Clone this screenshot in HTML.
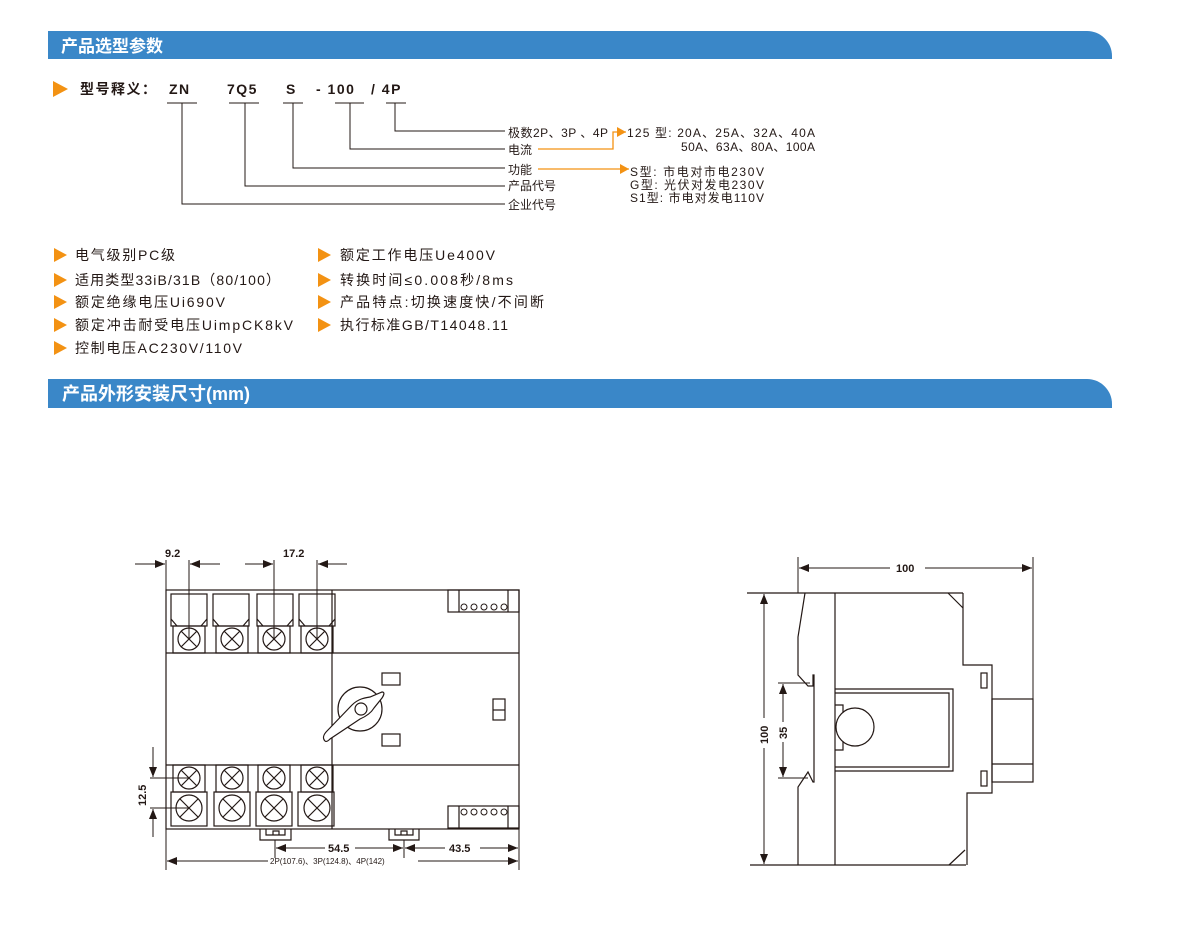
<!DOCTYPE html>
<html><head><meta charset="utf-8"><style>
html,body{margin:0;padding:0;background:#fff;}
svg{display:block;}
text{font-family:"Liberation Sans","Noto Sans CJK SC",sans-serif;fill:#231815;}
</style></head><body>
<svg width="1200" height="948" viewBox="0 0 1200 948" xmlns="http://www.w3.org/2000/svg">
<defs>
<marker id="ah" markerWidth="10" markerHeight="8" refX="10" refY="4" orient="auto" markerUnits="userSpaceOnUse"><path d="M0,0 L10,4 L0,8 z" fill="#231815"/></marker>
<marker id="ao" markerWidth="9" markerHeight="10" refX="9" refY="5" orient="auto" markerUnits="userSpaceOnUse"><path d="M0,0 L9,5 L0,10 z" fill="#f39213"/></marker>
</defs>
<path d="M48,31 H1087 A25,25 0 0 1 1112,56 V59 H48 Z" fill="#3a87c8"/>
<text x="61" y="52" font-size="17" font-weight="bold" style="fill:#fff">产品选型参数</text>
<path d="M48,379 H1087 A25,25 0 0 1 1112,404 V408 H48 Z" fill="#3a87c8"/>
<text x="62" y="400" font-size="18" font-weight="bold" style="fill:#fff">产品外形安装尺寸(mm)</text>

<path d="M53,81 L68,89 L53,97 Z" fill="#f39213"/>
<g font-size="14" font-weight="bold" letter-spacing="1.5">
<text x="80" y="94">型号释义：</text>
<text x="169" y="94">ZN</text>
<text x="227" y="94">7Q5</text>
<text x="286" y="94">S</text>
<text x="316" y="94">- 100</text>
<text x="371" y="94">/ 4P</text>
</g>
<g stroke="#231815" stroke-width="1" fill="none">
<path d="M167,103 H197 M229,103 H259 M283,103 H303 M335,103 H364 M386,103 H406"/>
<path d="M182,103 V204 H505 M245,103 V186 H505 M293,103 V168 H505 M350,103 V149 H505 M395,103 V131 H505"/>
</g>
<g font-size="12">
<text x="508" y="137" textLength="100">极数2P、3P 、4P</text>
<text x="508" y="154">电流</text>
<text x="508" y="174">功能</text>
<text x="508" y="190">产品代号</text>
<text x="508" y="209">企业代号</text>
<text x="627" y="137" textLength="188">125  型:  20A、25A、32A、40A</text>
<text x="681" y="151" textLength="134">50A、63A、80A、100A</text>
<text x="630" y="176" textLength="134">S型:     市电对市电230V</text>
<text x="630" y="189" textLength="134">G型:     光伏对发电230V</text>
<text x="630" y="202" textLength="134">S1型:  市电对发电110V</text>
</g>
<path d="M538,149 H613 V132 H626" stroke="#f39213" stroke-width="1.3" fill="none" marker-end="url(#ao)"/>
<path d="M538,169 H629" stroke="#f39213" stroke-width="1.3" fill="none" marker-end="url(#ao)"/>

<g fill="#f39213">
<path d="M54,248 L67,255 L54,262Z"/><path d="M54,273 L67,280 L54,287Z"/><path d="M54,295 L67,302 L54,309Z"/><path d="M54,318 L67,325 L54,332Z"/><path d="M54,341 L67,348 L54,355Z"/>
<path d="M318,248 L331,255 L318,262Z"/><path d="M318,273 L331,280 L318,287Z"/><path d="M318,295 L331,302 L318,309Z"/><path d="M318,318 L331,325 L318,332Z"/>
</g>
<g font-size="14">
<text x="75" y="260" textLength="100">电气级别PC级</text>
<text x="75" y="285" textLength="205">适用类型33iB/31B（80/100）</text>
<text x="75" y="307" textLength="150">额定绝缘电压Ui690V</text>
<text x="75" y="330" textLength="218">额定冲击耐受电压UimpCK8kV</text>
<text x="75" y="353" textLength="167">控制电压AC230V/110V</text>
<text x="340" y="260" textLength="155">额定工作电压Ue400V</text>
<text x="340" y="285" textLength="173">转换时间≤0.008秒/8ms</text>
<text x="340" y="307" textLength="204">产品特点:切换速度快/不间断</text>
<text x="340" y="330" textLength="168">执行标准GB/T14048.11</text>
</g>

<!-- LEFT DRAWING -->
<g stroke="#231815" stroke-width="1.2" fill="none">
<rect x="166" y="590" width="353" height="239"/>
<path d="M166,653 H519 M166,765 H519 M332,590 V829"/>
<rect x="171" y="594" width="36" height="32"/><rect x="213" y="594" width="36" height="32"/><rect x="257" y="594" width="36" height="32"/><rect x="299" y="594" width="36" height="32"/>
<path d="M171,619 l6,7 M207,619 l-6,7 M213,619 l6,7 M249,619 l-6,7 M257,619 l6,7 M293,619 l-6,7 M299,619 l6,7 M335,619 l-6,7"/>
<rect x="173" y="626" width="32" height="27"/><rect x="216" y="626" width="32" height="27"/><rect x="258" y="626" width="32" height="27"/><rect x="301" y="626" width="32" height="27"/>
<g id="x1"><circle cx="189" cy="639" r="11"/><path d="M181,631 l16,16 M197,631 l-16,16"/></g>
<use href="#x1" x="43"/><use href="#x1" x="85"/><use href="#x1" x="128"/>
<rect x="173" y="765" width="32" height="27"/><rect x="216" y="765" width="32" height="27"/><rect x="258" y="765" width="32" height="27"/><rect x="301" y="765" width="32" height="27"/>
<g id="x2"><circle cx="189" cy="778" r="11"/><path d="M181,770 l16,16 M197,770 l-16,16"/></g>
<use href="#x2" x="43"/><use href="#x2" x="85"/><use href="#x2" x="128"/>
<rect x="171" y="792" width="36" height="34"/><rect x="214" y="792" width="36" height="34"/><rect x="256" y="792" width="36" height="34"/><rect x="298" y="792" width="36" height="34"/>
<g id="x3"><circle cx="189" cy="808" r="13"/><path d="M180,799 l18,18 M198,799 l-18,18"/></g>
<use href="#x3" x="43"/><use href="#x3" x="85"/><use href="#x3" x="128"/>
<rect x="448" y="590" width="71" height="22"/><path d="M459,590 V612 M508,590 V612"/>
<rect x="448" y="806" width="71" height="22"/><path d="M459,806 V828 M508,806 V828"/>
<g stroke-width="1"><circle cx="464" cy="607" r="3"/><circle cx="474" cy="607" r="3"/><circle cx="484" cy="607" r="3"/><circle cx="494" cy="607" r="3"/><circle cx="504" cy="607" r="3"/>
<circle cx="464" cy="812" r="3"/><circle cx="474" cy="812" r="3"/><circle cx="484" cy="812" r="3"/><circle cx="494" cy="812" r="3"/><circle cx="504" cy="812" r="3"/></g>
<circle cx="360" cy="709" r="22"/>
<path d="M325,741 C322,738 324,734 327,731 L352,705 C358,699 364,698 370,697 L382,692 C385,692 384,695 382,698 L374,708 C371,713 367,716 360,719 L330,739 C328,741 326,742 325,741 Z" fill="#fff"/>
<circle cx="361" cy="709" r="6"/>
<rect x="382" y="673" width="18" height="12"/><rect x="382" y="734" width="18" height="12"/>
<rect x="493" y="699" width="12" height="21"/><path d="M493,710 H505"/>
<path d="M260,829 V840 H291 V829 M266,829 V835 H285 V829 M273,835 V831 H279 V835"/>
<path d="M389,829 V840 H419 V829 M395,829 V835 H413 V829 M401,835 V831 H407 V835"/>
</g>
<g stroke="#231815" stroke-width="1" fill="none">
<path d="M166,560 V590 M189,560 V639 M274,560 V639 M317,560 V639"/>
<path d="M135,564 H165" marker-end="url(#ah)"/>
<path d="M220,564 H190" marker-end="url(#ah)"/>
<path d="M245,564 H273" marker-end="url(#ah)"/>
<path d="M347,564 H318" marker-end="url(#ah)"/>
<path d="M150,778 H189 M150,808 H189"/>
<path d="M153,747 V777" marker-end="url(#ah)"/>
<path d="M153,837 V809" marker-end="url(#ah)"/>
<path d="M166,829 V870 M519,829 V870 M275,840 V858 M404,840 V858"/>
<path d="M325,848 H276" marker-end="url(#ah)"/>
<path d="M355,848 H403" marker-end="url(#ah)"/>
<path d="M445,848 H405" marker-end="url(#ah)"/>
<path d="M480,848 H518" marker-end="url(#ah)"/>
<path d="M268,861 H167" marker-end="url(#ah)"/>
<path d="M418,861 H518" marker-end="url(#ah)"/>
</g>
<g font-size="11" font-weight="bold">
<text x="165" y="557">9.2</text>
<text x="283" y="557">17.2</text>
<text x="328" y="852">54.5</text>
<text x="449" y="852">43.5</text>
<text x="0" y="0" transform="translate(146,806) rotate(-90)">12.5</text>
</g>
<text x="270" y="864" font-size="8">2P(107.6)、3P(124.8)、4P(142)</text>

<!-- RIGHT DRAWING -->
<g stroke="#231815" stroke-width="1.2" fill="none">
<path d="M747,593 H963 M750,865 H966"/>
<path d="M805,593 L798,637 V675 L808,686 H813 V675 H814 V782 H813 L808,772 L798,787 V865"/>
<path d="M835,593 V865"/>
<path d="M963,593 V665 H992 V793 H967 V865"/>
<path d="M948,593 L963,608 M949,865 L965,850"/>
<rect x="992" y="699" width="41" height="83"/><path d="M992,764 H1033"/>
<rect x="981" y="673" width="6" height="15"/><rect x="981" y="771" width="6" height="15"/>
<path d="M835,689 H953 V771 H835 M835,693 H949 V767 H835"/>
<path d="M835,705 H843 V750 H835" />
<circle cx="855" cy="727" r="19" fill="#fff"/>
</g>
<g stroke="#231815" stroke-width="1" fill="none">
<path d="M798,557 V593 M1033,557 V782"/>
<path d="M890,568 H799" marker-end="url(#ah)"/>
<path d="M925,568 H1032" marker-end="url(#ah)"/>
<path d="M764,718 V594" marker-end="url(#ah)"/>
<path d="M764,748 V864" marker-end="url(#ah)"/>
<path d="M778,683 H810 M778,778 H808"/>
<path d="M783,722 V684" marker-end="url(#ah)"/>
<path d="M783,742 V777" marker-end="url(#ah)"/>
</g>
<g font-size="11" font-weight="bold">
<text x="896" y="572">100</text>
<text transform="translate(768,744) rotate(-90)">100</text>
<text transform="translate(787,739) rotate(-90)">35</text>
</g>
</svg>
</body></html>
